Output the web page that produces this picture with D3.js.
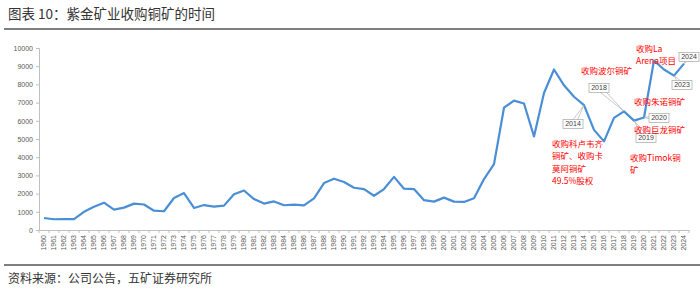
<!DOCTYPE html>
<html>
<head>
<meta charset="utf-8">
<script src="https://cdn.jsdelivr.net/npm/d3@7"></script>
<style>
  body { margin: 0; background: #fff; }
  svg { display: block; font-family: "Noto Sans CJK SC", "Noto Sans", sans-serif; }
</style>
</head>
<body>
<main></main>
<script>
const years = d3.range(1960, 2025).map(String);
const prices = [
  660, 590, 600, 600, 1000, 1280, 1500, 1120, 1230, 1450,
  1400, 1060, 1030, 1760, 2030, 1210, 1370, 1280, 1340, 1960,
  2170, 1700, 1450, 1570, 1360, 1390, 1350, 1740, 2580, 2820,
  2640, 2320, 2250, 1880, 2250, 2920, 2270, 2250, 1640, 1560,
  1780, 1560, 1540, 1740, 2800, 3620, 6720, 7110, 6950, 5140,
  7530, 8820, 7950, 7320, 6860, 5500, 4870, 6160, 6520, 6010,
  6180, 9310, 8820, 8480, 9140
];
const yTicks = d3.range(0, 10001, 1000);

// year callouts: [year, box centre x, box centre y]
const callouts = [
  ['2014', 573, 124],
  ['2018', 599, 88],
  ['2019', 646, 138],
  ['2020', 659, 118],
  ['2023', 682, 85],
  ['2024', 689, 57]
];

// red notes: [lines, x, first line y]
const notes = [
  [['收购La', 'Arena项目'], 636, 52],
  [['收购波尔铜矿'], 581, 74],
  [['收购朱诺铜矿'], 634, 105],
  [['收购巨龙铜矿'], 634, 133],
  [['收购科卢韦齐', '铜矿、收购卡', '莫阿铜矿', '49.5%股权'], 552, 147],
  [['收购Timok铜', '矿'], 630, 161]
];

const w = 700, h = 289;
const svg = d3.select('main').append('svg').attr('width', w).attr('height', h);

svg.append('text').attr('x', 8).attr('y', 19)
  .attr('font-size', 13.5).attr('fill', '#333')
  .text('图表 10：紫金矿业收购铜矿的时间');
svg.append('line').attr('x1', 4).attr('x2', 700).attr('y1', 29).attr('y2', 29)
  .attr('stroke', '#555').attr('stroke-width', 1.5);
svg.append('line').attr('x1', 4).attr('x2', 700).attr('y1', 265).attr('y2', 265)
  .attr('stroke', '#555').attr('stroke-width', 1.5);
svg.append('text').attr('x', 8).attr('y', 283)
  .attr('font-size', 12).attr('fill', '#333')
  .text('资料来源：公司公告，五矿证券研究所');

const x = d3.scaleBand().domain(years).range([39, 689]);
const y = d3.scaleLinear().domain([0, 10000]).range([230, 48]);
const cx = d => x(d) + x.bandwidth() / 2;

const yAxis = svg.append('g').attr('transform', 'translate(39,0)')
  .call(d3.axisLeft(y).tickValues(yTicks).tickFormat(d3.format('d')).tickSize(3).tickPadding(3));
const xAxis = svg.append('g').attr('transform', 'translate(0,230)')
  .call(d3.axisBottom(x).tickSize(0).tickPadding(4));
[yAxis, xAxis].forEach(g => {
  g.select('.domain').attr('stroke', '#bfbfbf');
  g.selectAll('.tick line').attr('stroke', '#bfbfbf');
  g.selectAll('text').attr('fill', '#595959').attr('font-size', 7)
    .attr('font-family', '"Liberation Sans", Arial, sans-serif');
});
xAxis.selectAll('.tick text')
  .attr('transform', 'rotate(-90)')
  .attr('text-anchor', 'end')
  .attr('x', -5).attr('y', 0).attr('dy', '0.32em');
// ticks between categories
xAxis.selectAll('.sep').data(years.concat(['end'])).enter().append('line')
  .attr('x1', (d, i) => 39 + i * x.step()).attr('x2', (d, i) => 39 + i * x.step())
  .attr('y1', 0).attr('y2', 3).attr('stroke', '#bfbfbf');

svg.append('path').datum(prices)
  .attr('fill', 'none').attr('stroke', '#4a8fd6').attr('stroke-width', 2.2)
  .attr('stroke-linejoin', 'round')
  .attr('d', d3.line().x((d, i) => cx(years[i])).y(d => y(d)));

const cg = svg.append('g');
callouts.forEach(([yr, bx, by]) => {
  const px = cx(yr), py = y(prices[years.indexOf(yr)]);
  const dx = bx - px, dy = by - py, len = Math.hypot(dx, dy);
  const nx = -dy / len * 2.5, ny = dx / len * 2.5;
  cg.append('path')
    .attr('d', `M${px},${py}L${bx + nx},${by + ny}L${bx - nx},${by - ny}Z`)
    .attr('fill', '#fff').attr('stroke', '#a6a6a6').attr('stroke-width', 0.6);
  cg.append('rect').attr('x', bx - 10).attr('y', by - 4.5).attr('width', 20).attr('height', 9)
    .attr('fill', '#fff').attr('stroke', '#a6a6a6').attr('stroke-width', 0.7);
  cg.append('text').attr('x', bx).attr('y', by).attr('dy', '0.35em')
    .attr('text-anchor', 'middle').attr('font-size', 7).attr('fill', '#404040')
    .attr('font-family', '"Liberation Sans", Arial, sans-serif')
    .text(yr);
});

notes.forEach(([lines, nx, ny]) => {
  const t = svg.append('text').attr('x', nx).attr('y', ny)
    .attr('font-size', 8.5).attr('fill', '#ff0000');
  lines.forEach((s, i) => t.append('tspan').attr('x', nx).attr('y', ny + i * 12.3).text(s));
});
</script>
</body>
</html>
